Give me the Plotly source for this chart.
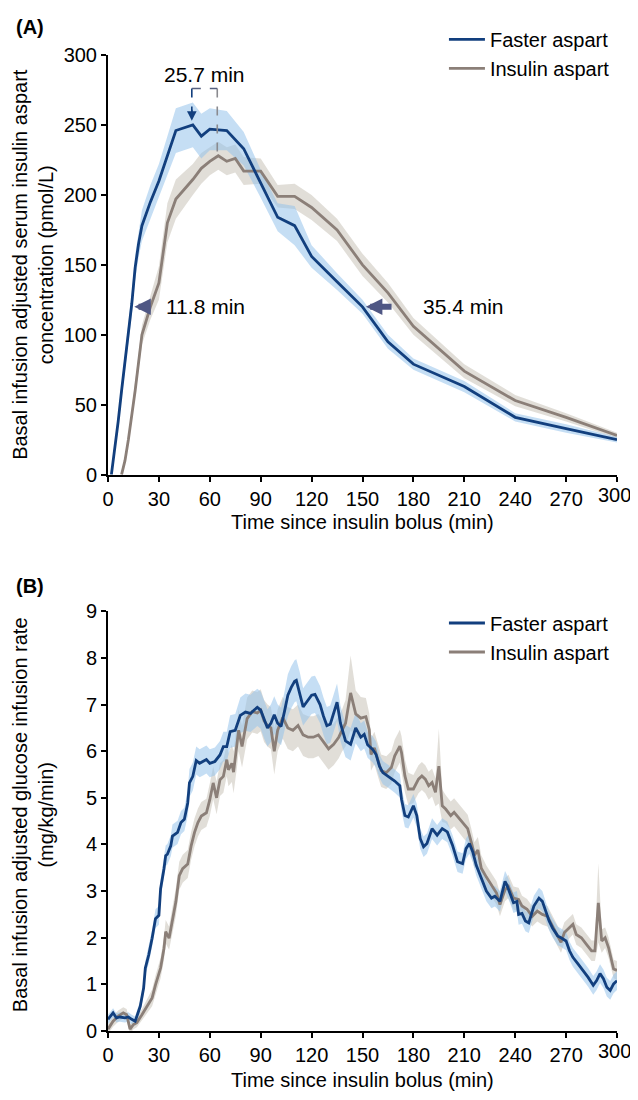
import plotly.graph_objects as go

# ---------------- Panel A: serum insulin aspart (pmol/L) ----------------
a_fast_t = [2, 4, 6, 8, 10, 12, 14, 16, 18, 20, 25, 30, 35, 40, 50, 55, 60, 70, 80, 90,
            100, 110, 120, 135, 150, 165, 180, 210, 240, 270, 300]
a_fast_v = [0, 18, 38, 60, 80, 100, 122, 148, 165, 178, 195, 210, 228, 246, 250, 242, 247, 246, 233, 208,
            184, 178, 156, 138, 120, 95, 79, 63, 41, 33, 25]
a_fast_e = [0, 3, 4, 5, 6, 7, 8, 9, 10, 11, 12, 12, 14, 16, 16, 16, 15, 14, 12, 10,
            10, 14, 8, 6, 5, 5, 4, 4, 3, 3, 2]

a_asp_t = [8, 10, 12, 14, 16, 18, 20, 25, 30, 35, 40, 50, 55, 60, 65, 70, 75, 80, 90, 100,
           110, 120, 135, 150, 165, 180, 210, 240, 270, 300]
a_asp_v = [0, 10, 25, 42, 60, 80, 100, 120, 137, 180, 197, 211, 219, 224, 228, 224, 226, 217, 217, 199,
           199, 191, 175, 150, 130, 106, 74, 53, 41, 28]
a_asp_e = [0, 2, 3, 4, 5, 6, 7, 9, 12, 14, 14, 11, 11, 10, 10, 10, 10, 10, 9, 8,
           9, 9, 8, 8, 7, 6, 5, 4, 3, 2]

# ---------------- Panel B: glucose infusion rate (mg/kg/min) ----------------
b_fast_t = [0, 3, 5, 7, 10, 12, 14, 16, 19, 21,
            22, 24, 26, 28, 30, 31, 33, 34, 35, 37,
            38, 41, 43, 45, 47, 48, 50, 52, 54, 56,
            58, 60, 63, 66, 68, 70, 72, 75, 78, 81,
            84, 86, 88, 90, 92, 94, 96, 98, 100, 102,
            104, 106, 108, 110, 111, 113, 115, 117, 120, 122,
            125, 127, 129, 131, 135, 137, 140, 143, 146, 149,
            151, 153, 156, 158, 160, 162, 165, 169, 172, 173,
            175, 177, 180, 182, 184, 186, 188, 191, 194, 197,
            200, 203, 206, 209, 211, 213, 215, 217, 220, 223,
            226, 228, 231, 234, 235, 237, 239, 241, 242, 244,
            246, 248, 251, 254, 256, 258, 260, 262, 265, 267,
            270, 272, 274, 277, 280, 283, 286, 288, 290, 292,
            294, 296, 298, 300]
b_fast_v = [0.25, 0.39, 0.28, 0.30, 0.28, 0.30, 0.25, 0.21, 0.53, 0.92,
            1.35, 1.63, 1.99, 2.41, 2.48, 3.05, 3.48, 3.76, 3.79, 3.97,
            4.18, 4.26, 4.47, 4.54, 4.89, 5.32, 5.46, 5.80, 5.74, 5.78,
            5.82, 5.74, 5.78, 5.92, 6.10, 6.10, 6.42, 6.45, 6.77, 6.84,
            6.81, 6.88, 6.94, 6.88, 6.67, 6.50, 6.60, 6.78, 6.60, 6.53,
            6.85, 7.20, 7.37, 7.50, 7.52, 7.25, 6.95, 7.05, 7.20, 7.22,
            7.00, 6.75, 6.55, 6.58, 7.05, 6.60, 6.22, 6.15, 6.50, 6.30,
            6.36, 6.14, 6.04, 5.93, 5.68, 5.54, 5.47, 5.36, 5.26, 4.97,
            4.62, 4.59, 4.83, 4.62, 4.13, 3.95, 4.02, 4.34, 4.20, 4.34,
            4.27, 3.99, 3.63, 3.59, 3.91, 4.02, 3.84, 3.56, 3.28, 3.00,
            2.85, 2.89, 2.78, 3.21, 3.14, 2.96, 2.75, 2.78, 2.50, 2.52,
            2.36, 2.32, 2.68, 2.85, 2.78, 2.57, 2.36, 2.21, 2.04, 2.00,
            1.93, 1.72, 1.58, 1.44, 1.30, 1.15, 0.98, 1.08, 1.23, 1.12,
            0.94, 0.87, 1.01, 1.08]
b_fast_e = [0.10, 0.10, 0.10, 0.10, 0.10, 0.10, 0.10, 0.10, 0.12, 0.15,
            0.15, 0.18, 0.18, 0.20, 0.20, 0.20, 0.20, 0.22, 0.22, 0.22,
            0.25, 0.25, 0.25, 0.25, 0.28, 0.30, 0.30, 0.30, 0.30, 0.30,
            0.30, 0.30, 0.30, 0.30, 0.32, 0.32, 0.35, 0.35, 0.38, 0.40,
            0.40, 0.40, 0.40, 0.40, 0.40, 0.40, 0.40, 0.40, 0.40, 0.40,
            0.42, 0.45, 0.45, 0.45, 0.45, 0.45, 0.40, 0.40, 0.40, 0.40,
            0.40, 0.40, 0.40, 0.40, 0.40, 0.38, 0.35, 0.35, 0.33, 0.30,
            0.30, 0.28, 0.28, 0.28, 0.25, 0.25, 0.25, 0.25, 0.25, 0.25,
            0.25, 0.25, 0.25, 0.25, 0.22, 0.22, 0.22, 0.22, 0.22, 0.22,
            0.22, 0.22, 0.22, 0.22, 0.22, 0.22, 0.22, 0.22, 0.22, 0.22,
            0.22, 0.22, 0.22, 0.22, 0.22, 0.22, 0.22, 0.22, 0.22, 0.22,
            0.22, 0.22, 0.22, 0.22, 0.22, 0.20, 0.20, 0.20, 0.20, 0.20,
            0.20, 0.20, 0.20, 0.20, 0.20, 0.20, 0.20, 0.20, 0.20, 0.20,
            0.20, 0.20, 0.20, 0.20]

b_asp_t = [0, 3, 6, 9, 11, 13, 15, 17, 20, 23,
           26, 28, 31, 33, 34, 36, 38, 40, 42, 44,
           47, 49, 51, 53, 55, 58, 60, 62, 64, 66,
           68, 70, 71, 73, 74, 76, 77, 79, 82, 85,
           88, 90, 92, 94, 96, 98, 100, 103, 106, 109,
           112, 115, 118, 121, 124, 127, 130, 133, 136, 138,
           140, 143, 144, 146, 149, 152, 154, 155, 157, 159,
           161, 164, 167, 169, 172, 173, 175, 177, 180, 183,
           185, 187, 189, 191, 193, 195, 197, 199, 202, 204,
           207, 210, 212, 214, 216, 218, 220, 223, 226, 229,
           231, 234, 236, 239, 242, 244, 247, 250, 253, 256,
           259, 262, 265, 267, 269, 272, 274, 276, 279, 282,
           285, 287, 289, 291, 293, 295, 297, 298, 300]
b_asp_v = [0.04, 0.21, 0.32, 0.39, 0.35, 0.04, 0.14, 0.18, 0.35, 0.53,
           0.71, 0.99, 1.35, 1.77, 2.13, 1.99, 2.34, 2.77, 3.33, 3.48,
           3.58, 3.97, 4.26, 4.47, 4.61, 4.68, 4.96, 5.32, 5.00, 5.39,
           5.46, 5.82, 5.60, 5.74, 5.55, 6.10, 6.45, 6.10, 6.70, 6.85,
           6.82, 6.88, 6.65, 6.55, 6.50, 6.00, 6.45, 6.72, 6.50, 6.45,
           6.55, 6.35, 6.30, 6.30, 6.35, 6.20, 6.05, 6.15, 6.30, 6.45,
           6.60, 7.25, 7.10, 6.80, 6.71, 6.74, 6.46, 5.93, 6.07, 5.82,
           5.58, 5.54, 5.65, 5.90, 6.11, 5.97, 5.47, 5.19, 5.19, 5.40,
           5.47, 5.40, 5.26, 5.33, 5.12, 5.68, 4.83, 4.76, 4.62, 4.69,
           4.55, 4.41, 4.34, 4.06, 3.77, 3.88, 3.49, 3.30, 3.14, 2.96,
           2.71, 3.03, 3.10, 2.85, 2.82, 2.68, 2.61, 2.46, 2.57, 2.50,
           2.46, 2.25, 2.04, 1.90, 2.11, 2.21, 2.29, 2.07, 2.00, 1.86,
           1.72, 1.72, 2.75, 1.93, 2.00, 1.79, 1.51, 1.33, 1.30]
b_asp_e = [0.10, 0.12, 0.12, 0.12, 0.12, 0.10, 0.10, 0.10, 0.12, 0.15,
           0.18, 0.20, 0.22, 0.25, 0.25, 0.25, 0.28, 0.30, 0.30, 0.30,
           0.30, 0.30, 0.30, 0.30, 0.30, 0.30, 0.35, 0.35, 0.35, 0.35,
           0.35, 0.35, 0.35, 0.40, 0.45, 0.45, 0.45, 0.45, 0.45, 0.45,
           0.45, 0.45, 0.45, 0.45, 0.45, 0.50, 0.45, 0.45, 0.45, 0.45,
           0.45, 0.45, 0.45, 0.45, 0.45, 0.45, 0.45, 0.45, 0.45, 0.45,
           0.50, 0.80, 0.70, 0.50, 0.45, 0.40, 0.35, 0.35, 0.35, 0.35,
           0.35, 0.35, 0.35, 0.35, 0.35, 0.35, 0.35, 0.35, 0.30, 0.30,
           0.30, 0.30, 0.30, 0.30, 0.30, 0.80, 0.35, 0.30, 0.30, 0.30,
           0.30, 0.30, 0.30, 0.30, 0.28, 0.28, 0.28, 0.25, 0.25, 0.25,
           0.25, 0.25, 0.25, 0.25, 0.25, 0.22, 0.22, 0.22, 0.22, 0.22,
           0.22, 0.22, 0.22, 0.22, 0.22, 0.22, 0.22, 0.22, 0.22, 0.22,
           0.22, 0.22, 0.85, 0.25, 0.22, 0.22, 0.22, 0.20, 0.20]

x_ticks = [0, 30, 60, 90, 120, 150, 180, 210, 240, 270, 300]
a_y_ticks = [0, 50, 100, 150, 200, 250, 300]
b_y_ticks = [0, 1, 2, 3, 4, 5, 6, 7, 8, 9]

names = ["Faster aspart", "Insulin aspart"]

# ---------------- styling ----------------
FONT = "Liberation Sans, Arial, sans-serif"
FS = 20
TFS = 20
BLUE = "#123f7e"
BLUE_BAND = "rgba(150,195,235,0.55)"
GRAY = "#8b7f78"
GRAY_BAND = "rgba(205,200,190,0.6)"

fig = go.Figure()


def band(t, v, e, color, xa, ya):
    up = [a + b for a, b in zip(v, e)]
    lo = [a - b for a, b in zip(v, e)]
    fig.add_trace(go.Scatter(x=list(t) + list(t)[::-1], y=up + lo[::-1], fill="toself",
                             fillcolor=color, line=dict(width=0), mode="lines",
                             showlegend=False, hoverinfo="skip", xaxis=xa, yaxis=ya))


def line(t, v, color, name, rank, legend, xa, ya):
    fig.add_trace(go.Scatter(x=t, y=v, mode="lines", line=dict(color=color, width=2.8),
                             name=name, legendrank=rank, legend=legend, legendgroup=legend + name,
                             xaxis=xa, yaxis=ya))


# Panel A
band(a_asp_t, a_asp_v, a_asp_e, GRAY_BAND, "x", "y")
band(a_fast_t, a_fast_v, a_fast_e, BLUE_BAND, "x", "y")
line(a_asp_t, a_asp_v, GRAY, names[1], 2, "legend", "x", "y")
line(a_fast_t, a_fast_v, BLUE, names[0], 1, "legend", "x", "y")
# Panel B
band(b_asp_t, b_asp_v, b_asp_e, GRAY_BAND, "x2", "y2")
band(b_fast_t, b_fast_v, b_fast_e, BLUE_BAND, "x2", "y2")
line(b_asp_t, b_asp_v, GRAY, names[1], 2, "legend2", "x2", "y2")
line(b_fast_t, b_fast_v, BLUE, names[0], 1, "legend2", "x2", "y2")

axis_common = dict(showline=True, linecolor="black", linewidth=2, ticks="outside", ticklen=5,
                   tickwidth=2, tickcolor="black", showgrid=False, zeroline=False,
                   tickfont=dict(family=FONT, size=TFS, color="black"))

# the last x tick label sits at the right edge; it is drawn as an annotation nudged inwards
x_text = [str(v) for v in x_ticks[:-1]] + [""]

# the page body adds an 8px margin on every side, so the figure is 16px smaller than the window
fig.update_layout(
    width=622, height=1084,
    margin=dict(l=100, r=13, t=37, b=61),
    paper_bgcolor="white", plot_bgcolor="white",
    font=dict(family=FONT, size=FS, color="black"),
    xaxis=dict(domain=[0, 1], anchor="y", range=[0, 300], tickvals=x_ticks, ticktext=x_text, **axis_common),
    yaxis=dict(domain=[0.570, 1.0], anchor="x", range=[0, 300], tickvals=a_y_ticks, **axis_common),
    xaxis2=dict(domain=[0, 1], anchor="y2", range=[0, 300], tickvals=x_ticks, ticktext=x_text, **axis_common),
    yaxis2=dict(domain=[0, 0.430], anchor="x2", range=[0, 9], tickvals=b_y_ticks, **axis_common),
    legend=dict(x=0.66, y=1.036, xanchor="left", yanchor="top", bgcolor="rgba(0,0,0,0)",
                font=dict(family=FONT, size=FS), tracegroupgap=0, itemwidth=36),
    legend2=dict(x=0.66, y=0.438, xanchor="left", yanchor="top", bgcolor="rgba(0,0,0,0)",
                 font=dict(family=FONT, size=FS), tracegroupgap=0, itemwidth=36),
    showlegend=True,
)

ann = []
# last x tick label of each panel
for xr, yr in (("x", "y domain"), ("x2", "y2 domain")):
    ann.append(dict(text=str(x_ticks[-1]), xref=xr, yref=yr, x=x_ticks[-1], y=0, xshift=-3, yshift=-7,
                    showarrow=False, xanchor="center", yanchor="top", font=dict(size=TFS)))
# axis titles
ann.append(dict(text="Time since insulin bolus (min)", xref="x domain", yref="y domain", x=0.5, y=0,
                yshift=-47, showarrow=False, yanchor="middle", font=dict(size=FS)))
ann.append(dict(text="Time since insulin bolus (min)", xref="x2 domain", yref="y2 domain", x=0.5, y=0,
                yshift=-49, showarrow=False, yanchor="middle", font=dict(size=FS)))
ann.append(dict(text="Basal infusion adjusted serum insulin aspart<br>concentration (pmol/L)",
                xref="paper", yref="y domain", x=0, y=0.5, xshift=-75, textangle=-90,
                showarrow=False, xanchor="center", yanchor="middle", font=dict(size=FS)))
ann.append(dict(text="Basal infusion adjusted glucose infusion rate<br>(mg/kg/min)",
                xref="paper", yref="y2 domain", x=0, y=0.5, xshift=-75, yshift=6, textangle=-90,
                showarrow=False, xanchor="center", yanchor="middle", font=dict(size=FS)))
# panel labels
ann.append(dict(text="<b>(A)</b>", xref="paper", yref="y domain", x=0, y=1, xshift=-94, yshift=28,
                showarrow=False, xanchor="left", yanchor="middle", font=dict(size=FS)))
ann.append(dict(text="<b>(B)</b>", xref="paper", yref="y2 domain", x=0, y=1, xshift=-94, yshift=25,
                showarrow=False, xanchor="left", yanchor="middle", font=dict(size=FS)))

# onset / offset arrows (panel A)
ARROW = "#4f5784"
ann.append(dict(x=15.5, y=120, ax=24.5, ay=120, xref="x", yref="y", axref="x", ayref="y",
                text="", showarrow=True, arrowhead=2, arrowsize=0.55, arrowwidth=6, arrowcolor=ARROW))
ann.append(dict(x=33, y=120, xref="x", yref="y", text="11.8 min", showarrow=False,
                xanchor="left", yanchor="middle", font=dict(size=FS + 1)))
ann.append(dict(x=152, y=120, ax=168, ay=120, xref="x", yref="y", axref="x", ayref="y",
                text="", showarrow=True, arrowhead=2, arrowsize=0.55, arrowwidth=6, arrowcolor=ARROW))
ann.append(dict(x=184.5, y=120, xref="x", yref="y", text="35.4 min", showarrow=False,
                xanchor="left", yanchor="middle", font=dict(size=FS + 1)))
# Tmax bracket
ann.append(dict(x=57, y=286, xref="x", yref="y", text="25.7 min", showarrow=False,
                xanchor="center", yanchor="middle", font=dict(size=FS + 1)))
ann.append(dict(x=49.4, y=253, ax=49.4, ay=262, xref="x", yref="y", axref="x", ayref="y",
                text="", showarrow=True, arrowhead=2, arrowsize=1.2, arrowwidth=1.6, arrowcolor=BLUE))
fig.update_layout(annotations=ann)

shapes = [
    dict(type="line", xref="x", yref="y", x0=49.4, x1=49.4, y0=276, y1=259,
         line=dict(color=BLUE, width=1.6, dash="dash")),
    dict(type="line", xref="x", yref="y", x0=64.4, x1=64.4, y0=276, y1=228,
         line=dict(color="#8a8a8f", width=1.6, dash="dash")),
    dict(type="line", xref="x", yref="y", x0=49.4, x1=64.4, y0=276, y1=276,
         line=dict(color="#56607f", width=1.6, dash="dash")),
]
fig.update_layout(shapes=shapes)

fig.write_html("out.html", config={"displayModeBar": False})
